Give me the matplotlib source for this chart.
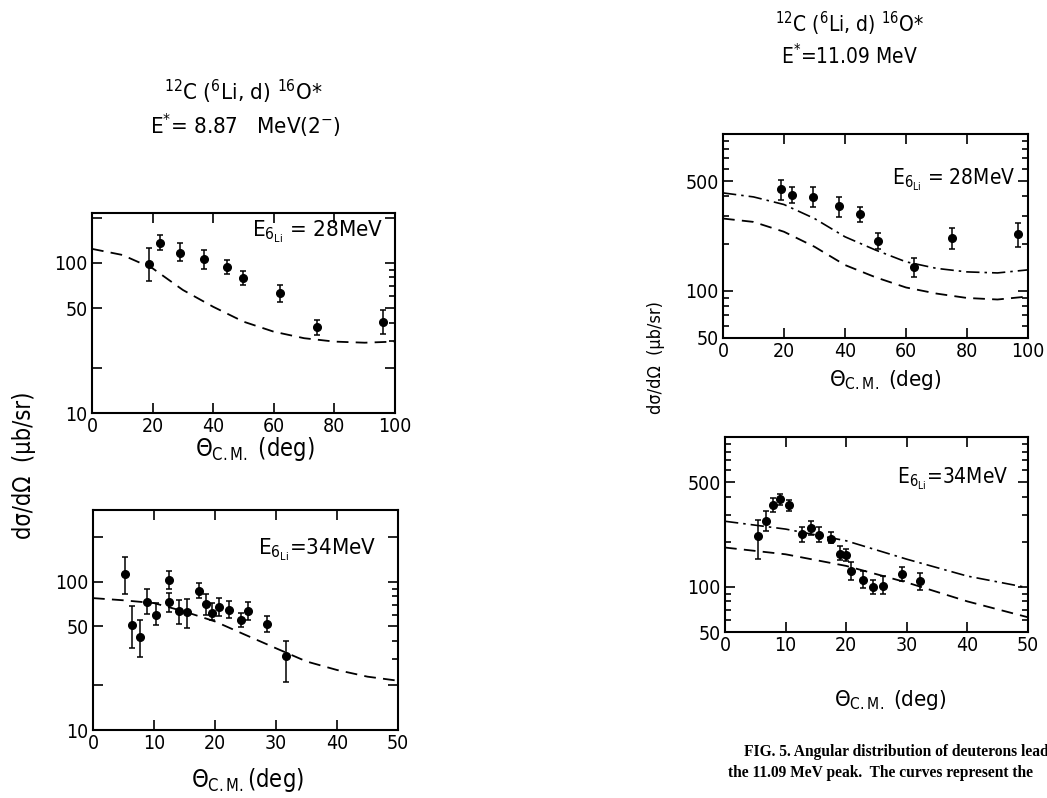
import numpy as np
import matplotlib
matplotlib.use("Agg")
import matplotlib.pyplot as plt
from matplotlib.ticker import FixedLocator, FuncFormatter, NullFormatter

# --- E* = 8.87 MeV, E(6Li) = 28 MeV ---
a_th = [18.9, 22.5, 29.1, 37.1, 44.7, 49.7, 62.0, 74.2, 96.2]
a_val = [99, 136, 117, 106, 94, 79, 63, 37.3, 40.3]
a_lo = [76, 121, 103, 91, 84, 71, 55, 33, 33.8]
a_hi = [125, 153, 135, 121, 105, 88, 71, 41.6, 48.5]
a_cth = [0, 10, 20, 30, 40, 50, 60, 70, 80, 90, 100]
a_dash = [124, 113, 92, 66, 51, 40.6, 34.8, 31.5, 29.9, 29.4, 29.9]

# --- E* = 8.87 MeV, E(6Li) = 34 MeV ---
b_th = [5.3, 6.45, 7.65, 8.9, 10.4, 12.4, 12.4, 14.05, 15.45, 17.4, 18.45, 19.45,
        20.65, 22.35, 24.2, 25.4, 28.5, 31.6]
b_val = [112, 51, 42.7, 73.6, 59.8, 102.6, 73.6, 63.6, 62.4, 87.3, 70.3, 62,
         67.5, 64.7, 55.1, 63.7, 52, 31.8]
b_lo = [83, 36, 31.3, 60.6, 51, 90, 63, 52, 49, 77.6, 59.7, 54.9,
        58.9, 56.9, 49.9, 55, 45.6, 21.2]
b_hi = [146, 68.6, 54.9, 89, 72, 119, 84.6, 75.6, 76.5, 98.6, 83, 72,
        77.6, 74.5, 61.9, 73.2, 59, 40.1]
b_cth = [0, 5, 10, 15, 20, 25, 30, 35, 40, 45, 50]
b_dash = [77.6, 75, 71.8, 63, 54, 43.8, 35.6, 29, 25.4, 22.9, 21.5]

# --- E* = 11.09 MeV, E(6Li) = 28 MeV ---
c_th = [19.1, 22.5, 29.6, 38.0, 44.9, 50.9, 62.7, 75.0, 96.6]
c_val = [443, 411, 397, 345, 307, 208, 141, 218, 230]
c_lo = [379, 361, 340, 296, 275, 186, 122, 186, 189]
c_hi = [507, 456, 456, 397, 340, 232, 162, 250, 271]
c_cth = [0, 10, 20, 30, 40, 50, 60, 70, 80, 90, 100]
c_dashdot = [421, 397, 355, 289, 221, 182, 153, 139, 132, 130, 136]
c_dash = [289, 275, 238, 191, 146, 122, 105, 96, 90, 88, 92]

# --- E* = 11.09 MeV, E(6Li) = 34 MeV ---
d_th = [5.5, 6.7, 7.95, 9.0, 10.6, 12.65, 14.2, 15.55, 17.5, 19.0, 19.9, 20.8,
        22.7, 24.4, 26.1, 29.2, 32.1]
d_val = [217, 274, 352, 386, 352, 227, 246, 221, 210, 167, 163, 128,
         112, 100, 102, 121, 109]
d_lo = [153, 237, 315, 352, 322, 200, 221, 198, 196, 151, 149, 112,
        98.7, 89, 89, 109, 95]
d_hi = [281, 319, 391, 417, 382, 249, 276, 249, 231, 186, 180, 147,
        128, 111, 118, 136, 124]
d_cth = [0, 10, 20, 30, 40, 50]
d_dashdot = [274, 243, 203, 153, 118, 98.7]
d_dash = [183, 165, 138, 107, 80, 62.7]

plt.rcParams["font.family"] = "DejaVu Sans"
plt.rcParams["font.stretch"] = "condensed"
plt.rcParams["mathtext.fontset"] = "custom"
plt.rcParams["mathtext.rm"] = "DejaVu Sans:stretch=condensed"
plt.rcParams["mathtext.it"] = "DejaVu Sans:stretch=condensed"

DASH = (0, (6.5, 4))
DASHDOT = (0, (8, 3, 1.5, 3))


def style_axes(ax, xmax, xstep, ylim, major, labelled, minor, minor_left):
    ax.set_xlim(0, xmax)
    ax.set_yscale("log")
    ax.set_ylim(*ylim)
    ax.set_xticks(np.arange(0, xmax + 1, xstep))
    ax.yaxis.set_major_locator(FixedLocator(major))
    ax.yaxis.set_major_formatter(FuncFormatter(lambda v, p: f"{v:g}" if v in labelled else ""))
    ax.yaxis.set_minor_locator(FixedLocator(minor))
    ax.yaxis.set_minor_formatter(NullFormatter())
    ax.tick_params(which="both", direction="in", top=True, right=True, width=1.2,
                   labelsize=14, pad=3)
    ax.tick_params(which="major", length=7)
    ax.tick_params(which="minor", length=4, left=minor_left)
    for sp in ax.spines.values():
        sp.set_linewidth(1.5)


def data(ax, th, val, lo, hi):
    v = np.array(val)
    err = [v - np.array(lo), np.array(hi) - v]
    ax.errorbar(th, v, yerr=err, fmt="o", color="k", ms=5.5, elinewidth=1.1,
                capsize=2.5, capthick=1.1, zorder=3)


def main():
    fig = plt.figure(figsize=(10.47, 7.98), dpi=100)
    W, H = 1047.0, 798.0

    def add(x0, y0, x1, y1):
        return fig.add_axes([x0 / W, 1 - y1 / H, (x1 - x0) / W, (y1 - y0) / H])

    # left column, E* = 8.87 MeV
    ax1 = add(92, 213, 395, 413)
    style_axes(ax1, 100, 20, (10, 215), [10, 20, 50, 100, 200], (10, 50, 100),
               [30, 40, 60, 70, 80, 90], False)
    ax1.plot(a_cth, a_dash, color="k", lw=1.3, ls=DASH)
    data(ax1, a_th, a_val, a_lo, a_hi)
    ax1.text(0.96, 0.905, r"E$_{6_{\mathrm{Li}}}$ = 28MeV", transform=ax1.transAxes,
             ha="right", va="center", fontsize=16)

    ax2 = add(93, 510, 398, 730)
    style_axes(ax2, 50, 10, (10, 305), [10, 20, 50, 100, 200], (10, 50, 100),
               [30, 40, 60, 70, 80, 90], False)
    ax2.plot(b_cth, b_dash, color="k", lw=1.3, ls=DASH)
    data(ax2, b_th, b_val, b_lo, b_hi)
    ax2.text(0.93, 0.818, r"E$_{6_{\mathrm{Li}}}$=34MeV", transform=ax2.transAxes,
             ha="right", va="center", fontsize=16)

    # right column, E* = 11.09 MeV
    rmin = [60, 70, 80, 90, 200, 300, 400, 600, 700, 800, 900]
    ax3 = add(723, 134, 1028, 338)
    style_axes(ax3, 100, 20, (50, 1000), [50, 100, 500], (50, 100, 500), rmin, True)
    ax3.plot(c_cth, c_dashdot, color="k", lw=1.2, ls=DASHDOT)
    ax3.plot(c_cth, c_dash, color="k", lw=1.3, ls=DASH)
    data(ax3, c_th, c_val, c_lo, c_hi)
    ax3.text(0.957, 0.775, r"E$_{6_{\mathrm{Li}}}$ = 28MeV", transform=ax3.transAxes,
             ha="right", va="center", fontsize=15)

    ax4 = add(725, 437, 1028, 632)
    style_axes(ax4, 50, 10, (50, 1000), [50, 100, 500], (50, 100, 500), rmin, True)
    ax4.plot(d_cth, d_dashdot, color="k", lw=1.2, ls=DASHDOT)
    ax4.plot(d_cth, d_dash, color="k", lw=1.3, ls=DASH)
    data(ax4, d_th, d_val, d_lo, d_hi)
    ax4.text(0.934, 0.785, r"E$_{6_{\mathrm{Li}}}$=34MeV", transform=ax4.transAxes,
             ha="right", va="center", fontsize=15)

    def t(x, y, s, **kw):
        fig.text(x / W, 1 - y / H, s, ha="center", va="center", **kw)

    # titles
    t(243, 92, r"$^{12}$C ($^{6}$Li, d) $^{16}$O*", fontsize=16)
    t(245, 126, r"E$^{*}$= 8.87   MeV(2$^{-}$)", fontsize=16)
    t(850, 24, r"$^{12}$C ($^{6}$Li, d) $^{16}$O*", fontsize=15)
    t(850, 56, r"E$^{*}$=11.09 MeV", fontsize=15)

    # axis labels
    xl = r"$\Theta_{\mathrm{C.M.}}$ (deg)"
    t(255, 449, xl, fontsize=17)
    t(248, 780, r"$\Theta_{\mathrm{C.M.}}$(deg)", fontsize=17)
    t(885, 380, xl, fontsize=16)
    t(890, 700, xl, fontsize=16)
    t(24, 465, "dσ/dΩ  (μb/sr)", fontsize=17, rotation=90)
    t(656, 358, "dσ/dΩ  (μb/sr)", fontsize=13, rotation=90)

    # caption (its right end meets the page edge, as in the scan)
    cap = dict(ha="left", va="center", fontsize=11.2, family="Liberation Serif",
               fontweight="bold", stretch="normal")
    fig.text(744 / W, 1 - 752 / H, "FIG. 5. Angular distribution of deuterons lead", **cap)
    fig.text(728 / W, 1 - 773 / H, "the 11.09 MeV peak.  The curves represent the", **cap)

    fig.savefig("out.png", dpi=100)


if __name__ == "__main__":
    main()
